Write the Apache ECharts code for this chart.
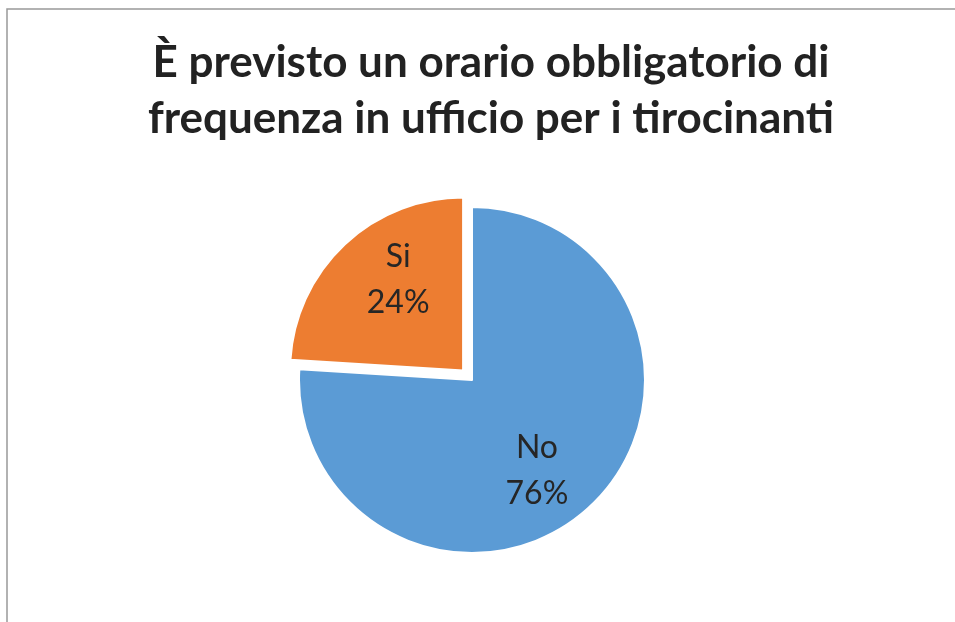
<!DOCTYPE html>
<html>
<head>
<meta charset="utf-8">
<script src="https://cdn.jsdelivr.net/npm/echarts@6/dist/echarts.min.js"></script>
<style>
  html, body { margin: 0; padding: 0; background: #fff; }
  #chart { width: 955px; height: 622px; }
</style>
</head>
<body>
<div id="chart"></div>
<script>
// Survey answers: is there a mandatory office schedule for trainees?
const titleText = 'È previsto un orario obbligatorio di\nfrequenza in ufficio per i tirocinanti';
const categories = ['No', 'Si'];
const shares = [76, 24];
const colors = ['#5B9BD5', '#ED7D31'];
const explodedSlice = 'Si';

const chart = echarts.init(document.getElementById('chart'), null, { renderer: 'canvas' });

const pieCenter = [472, 380];
const pieRadius = 173;

const option = {
  animation: false,
  title: {
    text: titleText,
    left: 486,
    textAlign: 'center',
    top: 30,
    textStyle: {
      fontFamily: 'Lato',
      fontWeight: 'bold',
      fontSize: 44,
      lineHeight: 56,
      color: '#222'
    }
  },
  graphic: [{
    type: 'rect',
    shape: { x: 7, y: 9, width: 1000, height: 700 },
    style: { fill: 'none', stroke: '#999', lineWidth: 1.5 },
    silent: true
  }],
  series: [{
    type: 'pie',
    center: pieCenter,
    radius: pieRadius,
    startAngle: 90,
    clockwise: true,
    selectedMode: 'single',
    selectedOffset: 13,
    itemStyle: { borderColor: '#fff', borderWidth: 2 },
    label: {
      show: true,
      position: 'inside',
      formatter: '{b}\n{d}%',
      fontFamily: 'Lato',
      fontSize: 32,
      lineHeight: 46,
      color: '#262626'
    },
    // place labels a little further from the centre, mostly vertically
    labelLayout: function (p) {
      const r = p.labelRect;
      const lx = r.x + r.width / 2;
      const ly = r.y + r.height / 2;
      return { dx: (lx - pieCenter[0]) * 0.06, dy: (ly - pieCenter[1]) * 0.39 };
    },
    emphasis: { disabled: true },
    data: categories.map((c, i) => ({
      name: c,
      value: shares[i],
      selected: c === explodedSlice,
      itemStyle: { color: colors[i] }
    }))
  }]
};

chart.setOption(option);
</script>
</body>
</html>
